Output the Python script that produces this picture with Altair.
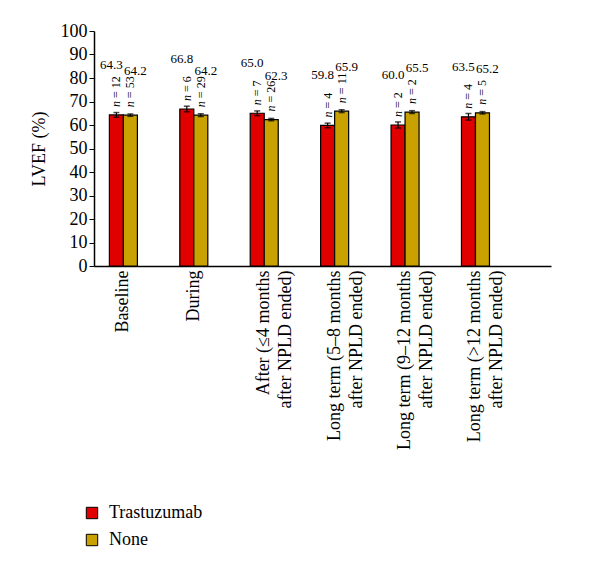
import altair as alt
import pandas as pd

categories = [
    "Baseline",
    "During",
    "After (≤4 months\nafter NPLD ended)",
    "Long term (5–8 months\nafter NPLD ended)",
    "Long term (9–12 months\nafter NPLD ended)",
    "Long term (>12 months\nafter NPLD ended)",
]
groups = ["Trastuzumab", "None"]
trast_vals = [64.3, 66.8, 65.0, 59.8, 60.0, 63.5]
none_vals = [64.2, 64.2, 62.3, 65.9, 65.5, 65.2]
trast_n = [12, 6, 7, 4, 2, 4]
none_n = [53, 29, 26, 11, 2, 5]
trast_err = [1.0, 1.2, 1.0, 1.0, 1.3, 1.4]
none_err = [0.5, 0.6, 0.5, 0.6, 0.6, 0.5]
colors = ["#e00000", "#c9a100"]

rows = []
for i, c in enumerate(categories):
    rows.append(dict(cat=c, grp=groups[0], v=trast_vals[i], n=trast_n[i], e=trast_err[i]))
    rows.append(dict(cat=c, grp=groups[1], v=none_vals[i], n=none_n[i], e=none_err[i]))
df = pd.DataFrame(rows)
df["lo"] = df["v"] - df["e"]
df["hi"] = df["v"] + df["e"]
df["lbl"] = df["v"].map(lambda x: f"{x:.1f}")
df["nrest"] = df["n"].map(lambda x: f"= {x}")

FONT = "Liberation Serif"

x_enc = alt.X(
    "cat:N",
    sort=categories,
    scale=alt.Scale(domain=categories, paddingInner=0.602, paddingOuter=0.546, align=0.2),
    axis=alt.Axis(
        title=None,
        labelAngle=-90,
        labelExpr="split(datum.label, '\\n')",
        labelFont=FONT,
        labelFontSize=18,
        labelColor="black",
        labelPadding=4,
        ticks=False,
        domainColor="black",
        domainWidth=1.5,
        labelLineHeight=22,
    ),
)
xo = alt.XOffset("grp:N", sort=groups, scale=alt.Scale(domain=groups, paddingInner=0, paddingOuter=0))
y_scale = alt.Scale(domain=[0, 100], nice=False)
y_axis = alt.Axis(
    title="LVEF (%)",
    values=list(range(0, 101, 10)),
    labelOverlap=False,
    grid=False,
    labelFont=FONT,
    labelFontSize=18,
    labelColor="black",
    titleFont=FONT,
    titleFontSize=18,
    titleFontWeight="normal",
    titleColor="black",
    titlePadding=12,
    domainColor="black",
    domainWidth=1.5,
    tickColor="black",
    tickSize=5,
)


def Y(field):
    return alt.Y(field, type="quantitative", scale=y_scale, axis=None)


base = alt.Chart(df).encode(x=x_enc, xOffset=xo)

bars = base.mark_bar(stroke="black", strokeWidth=1.2).encode(
    y=alt.Y("v:Q", scale=y_scale, axis=y_axis),
    color=alt.Color(
        "grp:N",
        sort=groups,
        scale=alt.Scale(domain=groups, range=colors),
        legend=alt.Legend(
            title=None,
            orient="none",
            legendX=-11,
            legendY=473,
            symbolType="square",
            symbolSize=130,
            symbolStrokeColor="black",
            symbolStrokeWidth=1,
            symbolOpacity=1,
            labelFont=FONT,
            labelFontSize=18,
            labelColor="black",
            labelOffset=8,
            rowPadding=9,
            padding=0,
        ),
    ),
)

err_rule = base.mark_rule(color="black", strokeWidth=1.2).encode(y=Y("lo"), y2="hi:Q")
cap_lo = base.mark_tick(color="black", size=6, thickness=1.5).encode(y=Y("lo"))
cap_hi = base.mark_tick(color="black", size=6, thickness=1.5).encode(y=Y("hi"))

n_italic = base.mark_text(
    angle=270, align="left", baseline="middle", dx=8, font=FONT, fontSize=12, fontStyle="italic", color="black"
).encode(y=Y("v"), text=alt.value("n"))
n_rest = base.mark_text(
    angle=270, align="left", baseline="middle", dx=17, font=FONT, fontSize=12, color="black"
).encode(y=Y("v"), text="nrest:N")

num_t = base.transform_filter(alt.datum.grp == groups[0]).mark_text(
    align="center", baseline="middle", dx=-5, dy=-50, font=FONT, fontSize=13, color="black"
).encode(y=Y("v"), text="lbl:N")
num_n = base.transform_filter(alt.datum.grp == groups[1]).mark_text(
    align="center", baseline="middle", dx=5, dy=-44, font=FONT, fontSize=13, color="black"
).encode(y=Y("v"), text="lbl:N")

chart = (
    alt.layer(bars, err_rule, cap_lo, cap_hi, n_italic, n_rest, num_t, num_n)
    .resolve_axis(y="independent")
    .properties(
        width=457,
        height=235,
        background="white",
        padding={"left": 22, "top": 14, "right": 5, "bottom": 5},
    )
    .configure_view(strokeWidth=0, stroke="transparent")
)

chart.save("out.html", embed_options={"renderer": "svg", "actions": False})
